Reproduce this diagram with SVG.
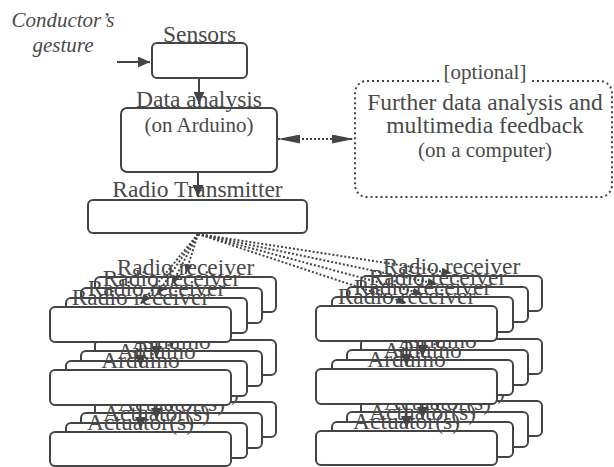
<svg xmlns="http://www.w3.org/2000/svg" width="614" height="467" viewBox="0 0 614 467">
<style>
.box{fill:#fff;stroke:#444;stroke-width:2}
.t{font-family:'Liberation Serif',serif;font-size:23.5px;fill:#4a4a4a;text-anchor:middle}
.s{font-size:21px}
.it{font-style:italic;font-size:21px}
.ar{stroke:#444;stroke-width:2;fill:none;marker-end:url(#ah)}
.dar{stroke:#444;stroke-width:2;fill:none;stroke-dasharray:2 2;marker-end:url(#ahs)}
.dot{fill:none;stroke:#444;stroke-width:2;stroke-dasharray:2 3}
</style>
<defs>
<marker id="ah" markerUnits="userSpaceOnUse" viewBox="0 0 12 11" refX="12" refY="5.5" markerWidth="12" markerHeight="11" orient="auto"><path d="M0,0 L12,5.5 L0,11 z" fill="#444"/></marker>
<marker id="ahs" markerUnits="userSpaceOnUse" viewBox="0 0 10 8" refX="10" refY="4" markerWidth="10" markerHeight="8" orient="auto"><path d="M0,0 L10,4 L0,8 z" fill="#444"/></marker>
<marker id="ahl" markerUnits="userSpaceOnUse" viewBox="0 0 22 9" refX="22" refY="4.5" markerWidth="22" markerHeight="9" orient="auto-start-reverse"><path d="M0,0 L22,4.5 L0,9 z" fill="#444"/></marker>
</defs>
<rect width="614" height="467" fill="#fff"/>

<g id="gesture">
<text class="t it" x="63" y="27">Conductor’s</text>
<text class="t it" x="63" y="52">gesture</text>
</g>
<g id="sensors">
<rect class="box" x="152" y="43" width="95" height="35" rx="5"/>
<text class="t" x="199.5" y="41.5">Sensors</text>
</g>
<g id="data-analysis">
<rect class="box" x="121" y="108" width="156" height="64" rx="6"/>
<text class="t" x="199" y="107">Data analysis</text>
<text class="t s" x="199" y="132">(on Arduino)</text>
</g>
<g id="transmitter">
<rect class="box" x="88" y="200" width="219" height="33" rx="5"/>
<text class="t" x="197.5" y="197">Radio Transmitter</text>
</g>
<g id="computer">
<rect class="dot" x="355" y="81" width="257" height="116" rx="12"/>
<rect x="441" y="74" width="88" height="10" fill="#fff"/>
<text class="t s" x="485" y="79">[optional]</text>
<text class="t" x="485" y="110">Further data analysis and</text>
<text class="t" x="485" y="133">multimedia feedback</text>
<text class="t s" x="485" y="157">(on a computer)</text>
</g>
<g id="connectors-top">
<line class="ar" x1="117" y1="62" x2="150" y2="62"/>
<line class="ar" x1="199" y1="78" x2="199" y2="104"/>
<line class="ar" x1="198" y1="172" x2="198" y2="197"/>
<line x1="278" y1="139" x2="354" y2="139" stroke="#444" stroke-width="2" stroke-dasharray="2 2" marker-start="url(#ahl)" marker-end="url(#ahl)"/>
</g>

<g id="layer3">
<g id="L3-receiver"><rect class="box" x="95" y="277" width="181" height="35" rx="5"/><text class="t" x="185.5" y="275">Radio receiver</text></g>
<g id="L3-arduino"><rect class="box" x="95" y="340" width="181" height="35" rx="5"/><text class="t" x="185.5" y="338">Arduino</text></g>
<g id="L3-actuator"><rect class="box" x="95" y="402" width="181" height="35" rx="5"/><text class="t" x="185.5" y="400">Actuator(s)</text></g>
<g id="R3-receiver"><rect class="box" x="361" y="276" width="181" height="35" rx="5"/><text class="t" x="451.5" y="274">Radio receiver</text></g>
<g id="R3-arduino"><rect class="box" x="361" y="339" width="181" height="35" rx="5"/><text class="t" x="451.5" y="337">Arduino</text></g>
<g id="R3-actuator"><rect class="box" x="361" y="401" width="181" height="35" rx="5"/><text class="t" x="451.5" y="399">Actuator(s)</text></g>
<g id="connectors-3">
<line class="dar" x1="198" y1="234" x2="185.5" y2="274"/>
<line class="dar" x1="198" y1="234" x2="451.5" y2="273"/>
<line class="ar" x1="185.5" y1="312" x2="185.5" y2="337"/>
<line class="ar" x1="185.5" y1="375" x2="185.5" y2="399"/>
<line class="ar" x1="451.5" y1="311" x2="451.5" y2="336"/>
<line class="ar" x1="451.5" y1="374" x2="451.5" y2="398"/>
</g>
</g>

<g id="layer2">
<g id="L2-receiver"><rect class="box" x="81" y="288" width="181" height="35" rx="5"/><text class="t" x="171.5" y="286">Radio receiver</text></g>
<g id="L2-arduino"><rect class="box" x="81" y="351" width="181" height="35" rx="5"/><text class="t" x="171.5" y="349">Arduino</text></g>
<g id="L2-actuator"><rect class="box" x="81" y="413" width="181" height="35" rx="5"/><text class="t" x="171.5" y="411">Actuator(s)</text></g>
<g id="R2-receiver"><rect class="box" x="347" y="287" width="181" height="35" rx="5"/><text class="t" x="437.5" y="285">Radio receiver</text></g>
<g id="R2-arduino"><rect class="box" x="347" y="350" width="181" height="35" rx="5"/><text class="t" x="437.5" y="348">Arduino</text></g>
<g id="R2-actuator"><rect class="box" x="347" y="412" width="181" height="35" rx="5"/><text class="t" x="437.5" y="410">Actuator(s)</text></g>
<g id="connectors-2">
<line class="dar" x1="198" y1="234" x2="171.5" y2="285"/>
<line class="dar" x1="198" y1="234" x2="437.5" y2="284"/>
<line class="ar" x1="171.5" y1="323" x2="171.5" y2="348"/>
<line class="ar" x1="171.5" y1="386" x2="171.5" y2="410"/>
<line class="ar" x1="437.5" y1="322" x2="437.5" y2="347"/>
<line class="ar" x1="437.5" y1="385" x2="437.5" y2="409"/>
</g>
</g>

<g id="layer1">
<g id="L1-receiver"><rect class="box" x="66" y="298" width="181" height="35" rx="5"/><text class="t" x="156.5" y="296">Radio receiver</text></g>
<g id="L1-arduino"><rect class="box" x="66" y="361" width="181" height="35" rx="5"/><text class="t" x="156.5" y="359">Arduino</text></g>
<g id="L1-actuator"><rect class="box" x="66" y="423" width="181" height="35" rx="5"/><text class="t" x="156.5" y="421">Actuator(s)</text></g>
<g id="R1-receiver"><rect class="box" x="332" y="297" width="181" height="35" rx="5"/><text class="t" x="422.5" y="295">Radio receiver</text></g>
<g id="R1-arduino"><rect class="box" x="332" y="360" width="181" height="35" rx="5"/><text class="t" x="422.5" y="358">Arduino</text></g>
<g id="R1-actuator"><rect class="box" x="332" y="422" width="181" height="35" rx="5"/><text class="t" x="422.5" y="420">Actuator(s)</text></g>
<g id="connectors-1">
<line class="dar" x1="198" y1="234" x2="156.5" y2="295"/>
<line class="dar" x1="198" y1="234" x2="422.5" y2="294"/>
<line class="ar" x1="156.5" y1="333" x2="156.5" y2="358"/>
<line class="ar" x1="156.5" y1="396" x2="156.5" y2="420"/>
<line class="ar" x1="422.5" y1="332" x2="422.5" y2="357"/>
<line class="ar" x1="422.5" y1="395" x2="422.5" y2="419"/>
</g>
</g>

<g id="layer0">
<g id="L0-receiver"><rect class="box" x="50" y="307" width="181" height="35" rx="5"/><text class="t" x="140.5" y="305">Radio receiver</text></g>
<g id="L0-arduino"><rect class="box" x="50" y="370" width="181" height="35" rx="5"/><text class="t" x="140.5" y="368">Arduino</text></g>
<g id="L0-actuator"><rect class="box" x="50" y="432" width="181" height="34" rx="5"/><text class="t" x="140.5" y="430">Actuator(s)</text></g>
<g id="R0-receiver"><rect class="box" x="316" y="306" width="181" height="35" rx="5"/><text class="t" x="406.5" y="304">Radio receiver</text></g>
<g id="R0-arduino"><rect class="box" x="316" y="369" width="181" height="35" rx="5"/><text class="t" x="406.5" y="367">Arduino</text></g>
<g id="R0-actuator"><rect class="box" x="316" y="431" width="181" height="34" rx="5"/><text class="t" x="406.5" y="429">Actuator(s)</text></g>
<g id="connectors-0">
<line class="dar" x1="198" y1="234" x2="140.5" y2="304"/>
<line class="dar" x1="198" y1="234" x2="406.5" y2="303"/>
<line class="ar" x1="140.5" y1="342" x2="140.5" y2="367"/>
<line class="ar" x1="140.5" y1="405" x2="140.5" y2="429"/>
<line class="ar" x1="406.5" y1="341" x2="406.5" y2="366"/>
<line class="ar" x1="406.5" y1="404" x2="406.5" y2="428"/>
</g>
</g>
</svg>
